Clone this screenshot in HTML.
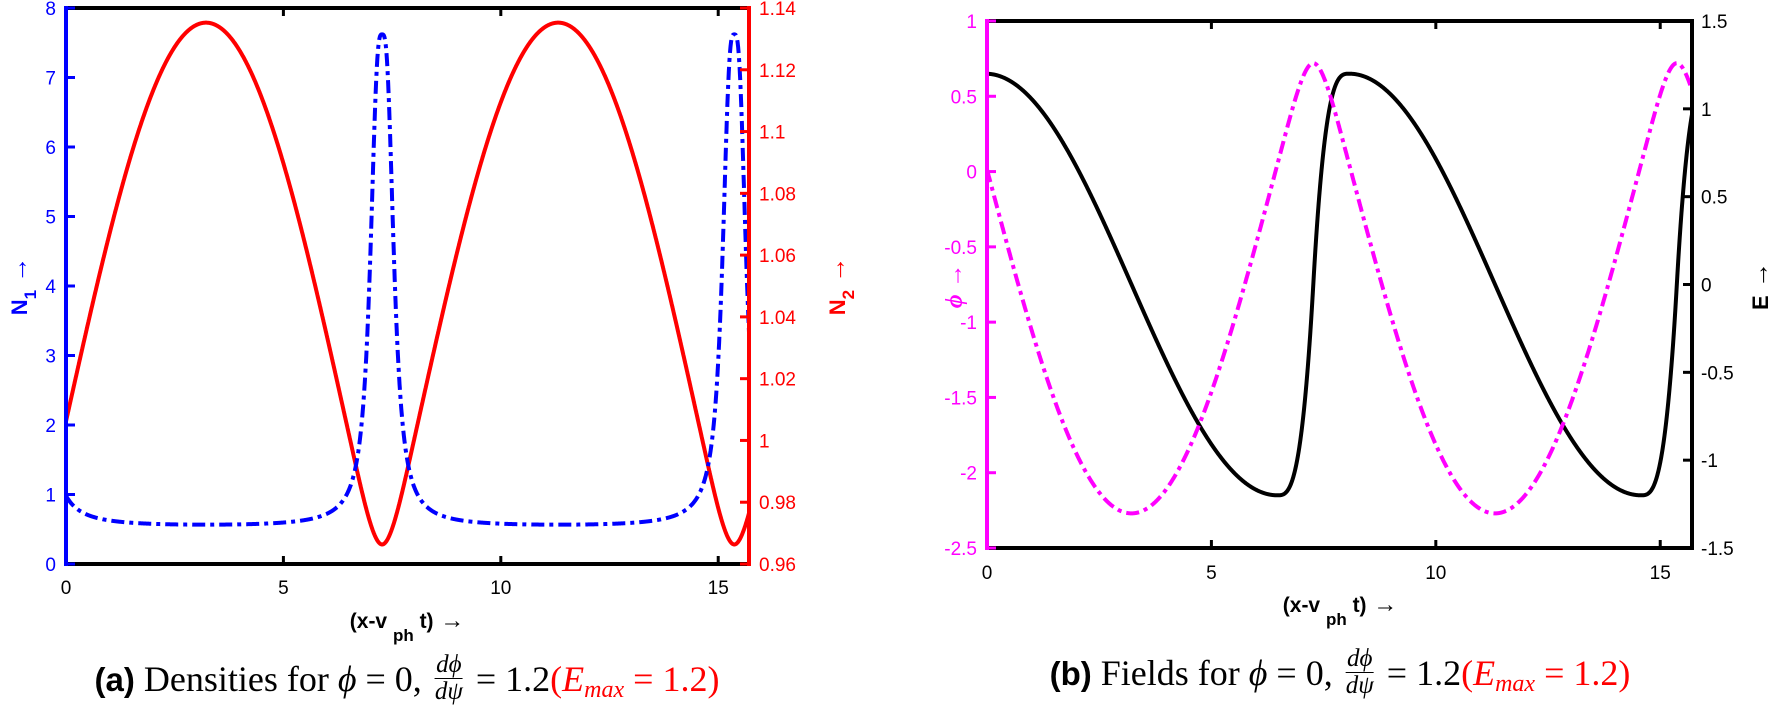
<!DOCTYPE html>
<html><head><meta charset="utf-8">
<style>
html,body{margin:0;padding:0;background:#fff;}
#wrap{position:relative;width:1773px;height:716px;overflow:hidden;}
svg{position:absolute;left:0;top:0;}
.cap{position:absolute;white-space:nowrap;transform:translateX(-50%);font-family:"Liberation Serif",serif;font-size:36px;line-height:1;}
.cap b{font-family:"Liberation Sans",sans-serif;font-size:33px;}
.fr{display:inline-block;vertical-align:middle;text-align:center;font-size:25px;font-style:italic;line-height:1.05;margin:0 4px;position:relative;top:-4px;}
.fr span{display:block;}
.fr .t{border-bottom:1.5px solid #000;padding:0 1px;}
.red{color:#f00;}
.red sub{font-size:24px;font-style:italic;vertical-align:-6px;}
</style></head><body>
<div id="wrap">
<svg id="s" width="1773" height="716" xmlns="http://www.w3.org/2000/svg" font-family="Liberation Sans, sans-serif"></svg>
<div class="cap" style="left:407px;top:656px;"><b>(a)</b> Densities for <i>ϕ</i> = 0, <span class="fr"><span class="t">dϕ</span><span>dψ</span></span> = 1.2<span class="red">(<i>E</i><sub>max</sub> = 1.2)</span></div>
<div class="cap" style="left:1340px;top:650px;"><b>(b)</b> Fields for <i>ϕ</i> = 0, <span class="fr"><span class="t">dϕ</span><span>dψ</span></span> = 1.2<span class="red">(<i>E</i><sub>max</sub> = 1.2)</span></div>
</div>
<script>
const S=document.getElementById('s');
let h='';
const XM=5*Math.PI, T=8.1, X0=7.27, Ep=1.2;
const N=4000, half=T/2;
function g(s){ if(s<=0.8){const u=1-s/0.8;return 1-u*u*u;} return Math.cos(Math.PI/2*(s-0.8)/(half-0.8)); }
const ph=[0]; for(let i=1;i<=N;i++){const s0=(i-1)*half/N,s1=i*half/N; ph[i]=ph[i-1]-(g(s0)+g(s1))/2*(half/N);}
const tot=-ph[N];
function phiAt(x){let t=x-X0; t=((t%T)+T+T/2)%T-T/2; const s=Math.abs(t); const k=Math.min(N,Math.round(s/half*N)); return 0.72+ph[k]/tot*2.99;}
function EAt(x){let t=x-X0; t=((t%T)+T+T/2)%T-T/2; return Ep*Math.sign(t)*g(Math.abs(t));}
function N1(p){const d=Math.max(0,0.72-p);return 0.52+7.1/(1+Math.pow(d/0.139,1.64));}
function N2(p){return 1.007-0.0565*p;}
function path(f,xa,xb,ya,yb,lo,hi,col,dash){
  let d='';for(let i=0;i<=2400;i++){const x=XM*i/2400;const v=f(x);const px=xa+(xb-xa)*x/XM;const py=ya+(yb-ya)*(v-lo)/(hi-lo);d+=(i?'L':'M')+px.toFixed(2)+' '+py.toFixed(2);}
  h+=`<path d="${d}" fill="none" stroke="${col}" stroke-width="4" stroke-linejoin="round" ${dash?'stroke-dasharray="'+dash+'"':''}/>`;
}
function txt(x,y,s,col,anchor,size,extra){h+=`<text x="${x}" y="${y}" fill="${col}" font-size="${size||19}" text-anchor="${anchor||'middle'}" ${extra||''}>${s}</text>`;}
// ---------- Plot A ----------
let L=66,R=749,Tp=8,B=564;
path(x=>N2(phiAt(x)),L,R,B,Tp,0.96,1.14,'#f00');
path(x=>N1(phiAt(x)),L,R,B,Tp,0,8,'#00f','13 5 4 5');
h+=`<line x1="${L}" y1="${Tp}" x2="${R}" y2="${Tp}" stroke="#000" stroke-width="4"/><line x1="${L}" y1="${B}" x2="${R}" y2="${B}" stroke="#000" stroke-width="4"/>`;
for(const v of [5,10,15]){const x=L+(R-L)*v/XM;h+=`<line x1="${x}" y1="${B}" x2="${x}" y2="${B-8}" stroke="#000" stroke-width="3"/><line x1="${x}" y1="${Tp}" x2="${x}" y2="${Tp+8}" stroke="#000" stroke-width="3"/>`;}
for(const v of [0,5,10,15]){txt(L+(R-L)*v/XM,594,v,'#000');}
h+=`<line x1="${L}" y1="${Tp-2}" x2="${L}" y2="${B+2}" stroke="#00f" stroke-width="4"/><line x1="${R}" y1="${Tp-2}" x2="${R}" y2="${B+2}" stroke="#f00" stroke-width="4"/>`;
for(let v=0;v<=8;v++){const y=B-(B-Tp)*v/8;h+=`<line x1="${L}" y1="${y}" x2="${L+9}" y2="${y}" stroke="#00f" stroke-width="3"/>`;txt(L-10,y+7,v,'#00f','end');}
for(let i=0;i<=9;i++){const v=0.96+0.02*i;const y=B-(B-Tp)*i/9;h+=`<line x1="${R}" y1="${y}" x2="${R-9}" y2="${y}" stroke="#f00" stroke-width="3"/>`;txt(R+10,y+7,(Math.round(v*100)/100).toString(),'#f00','start');}
h+=`<text transform="translate(27,286) rotate(-90)" fill="#00f" font-size="22" font-weight="bold" text-anchor="middle">N<tspan font-size="17" dy="9">1</tspan><tspan dy="-9" font-weight="normal" font-size="26"> →</tspan></text>`;
h+=`<text transform="translate(845,286) rotate(-90)" fill="#f00" font-size="22" font-weight="bold" text-anchor="middle">N<tspan font-size="17" dy="9">2</tspan><tspan dy="-9" font-weight="normal" font-size="26"> →</tspan></text>`;
h+=`<text x="407" y="628" font-size="21" font-weight="bold" text-anchor="middle">(x-v <tspan font-size="17" dy="13">ph</tspan><tspan dy="-13"> t)</tspan><tspan font-weight="normal" font-size="24"> →</tspan></text>`;
// ---------- Plot B ----------
L=987;R=1692;Tp=21;B=548;
path(x=>EAt(x),L,R,B,Tp,-1.5,1.5,'#000');
path(x=>phiAt(x),L,R,B,Tp,-2.5,1,'#f0f','13 5 4 5');
h+=`<line x1="${L}" y1="${Tp}" x2="${R}" y2="${Tp}" stroke="#000" stroke-width="4"/><line x1="${L}" y1="${B}" x2="${R}" y2="${B}" stroke="#000" stroke-width="4"/>`;
for(const v of [5,10,15]){const x=L+(R-L)*v/XM;h+=`<line x1="${x}" y1="${B}" x2="${x}" y2="${B-8}" stroke="#000" stroke-width="3"/><line x1="${x}" y1="${Tp}" x2="${x}" y2="${Tp+8}" stroke="#000" stroke-width="3"/>`;}
for(const v of [0,5,10,15]){txt(L+(R-L)*v/XM,579,v,'#000');}
h+=`<line x1="${L}" y1="${Tp-2}" x2="${L}" y2="${B+2}" stroke="#f0f" stroke-width="4"/><line x1="${R}" y1="${Tp-2}" x2="${R}" y2="${B+2}" stroke="#000" stroke-width="4"/>`;
for(let i=0;i<=7;i++){const v=-2.5+0.5*i;const y=B-(B-Tp)*i/7;h+=`<line x1="${L}" y1="${y}" x2="${L+9}" y2="${y}" stroke="#f0f" stroke-width="3"/>`;txt(L-10,y+7,v,'#f0f','end');}
for(let i=0;i<=6;i++){const v=-1.5+0.5*i;const y=B-(B-Tp)*i/6;h+=`<line x1="${R}" y1="${y}" x2="${R-9}" y2="${y}" stroke="#000" stroke-width="3"/>`;txt(R+9,y+7,v,'#000','start');}
h+=`<text transform="translate(962,286) rotate(-90)" fill="#f0f" font-size="24" text-anchor="middle"><tspan font-family="Liberation Serif, serif" font-style="italic" font-weight="bold">ϕ</tspan> →</text>`;
h+=`<text transform="translate(1768,286) rotate(-90)" fill="#000" font-size="22" font-weight="bold" text-anchor="middle">E<tspan font-weight="normal" font-size="26"> →</tspan></text>`;
h+=`<text x="1340" y="612" font-size="21" font-weight="bold" text-anchor="middle">(x-v <tspan font-size="17" dy="13">ph</tspan><tspan dy="-13"> t)</tspan><tspan font-weight="normal" font-size="24"> →</tspan></text>`;
S.innerHTML=h;
</script>
</body></html>
